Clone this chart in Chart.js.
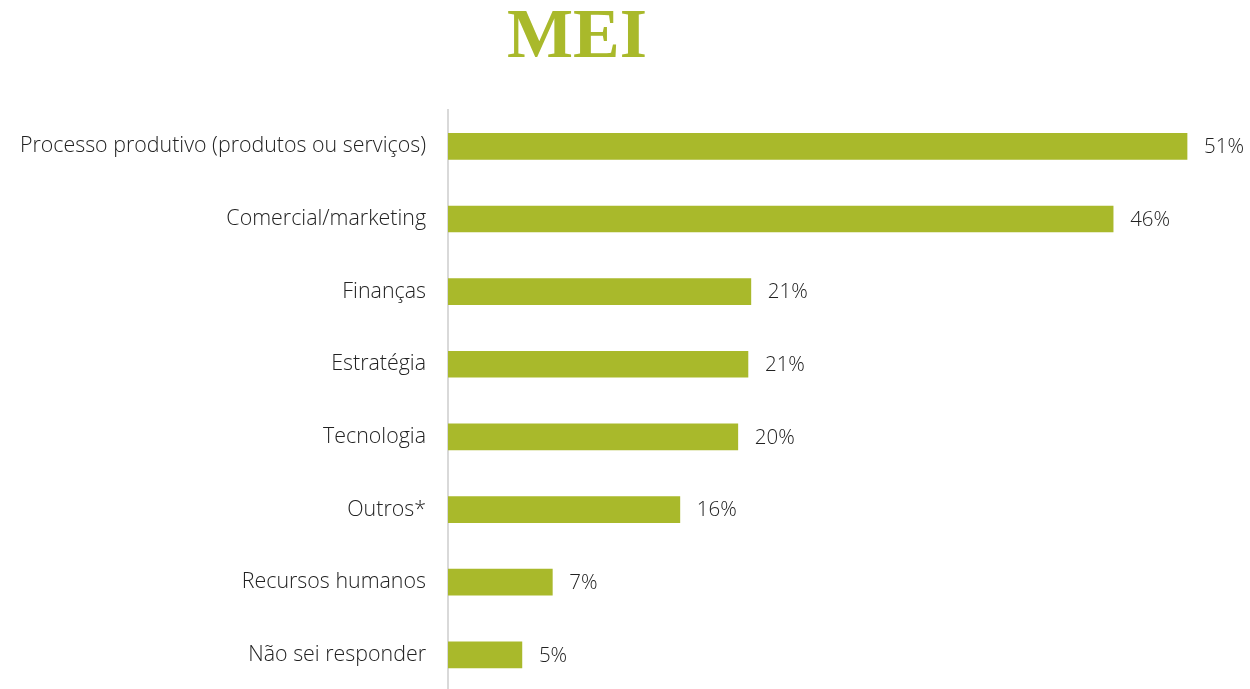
<!DOCTYPE html>
<html>
<head>
<meta charset="utf-8">
<script src="https://cdn.jsdelivr.net/npm/chart.js@4.4.1/dist/chart.umd.min.js"></script>
<style>
  html, body { margin: 0; padding: 0; background: #ffffff; overflow: hidden; }
  #wrap { width: 1250px; height: 689px; overflow: hidden; position: relative; }
  #inner { width: 1250px; height: 726px; position: relative; }
</style>
</head>
<body>
<div id="wrap"><div id="inner"><canvas id="c"></canvas></div></div>
<script>
const chartTitle = "MEI";
const categories = [
  "Processo produtivo (produtos ou serviços)",
  "Comercial/marketing",
  "Finanças",
  "Estratégia",
  "Tecnologia",
  "Outros*",
  "Recursos humanos",
  "Não sei responder"
];
const values = [51.0, 45.9, 20.9, 20.7, 20.0, 16.0, 7.2, 5.1];
const valueLabels = ["51%", "46%", "21%", "21%", "20%", "16%", "7%", "5%"];

const barColor = "#A9B92B";
const textColor = "#222222";
const labelFont = "'Open Sans'";

const titlePlugin = {
  id: "meiTitle",
  afterDraw(chart) {
    const ctx = chart.ctx;
    ctx.save();
    ctx.font = "bold 70px 'Liberation Serif', 'DejaVu Serif', serif";
    ctx.fillStyle = barColor;
    ctx.textAlign = "center";
    ctx.textBaseline = "alphabetic";
    ctx.fillText(chartTitle, 577, 57);
    ctx.restore();
  }
};

const valueLabelPlugin = {
  id: "valueLabels",
  afterDatasetsDraw(chart) {
    const ctx = chart.ctx;
    const meta = chart.getDatasetMeta(0);
    ctx.save();
    ctx.font = "300 20.5px " + labelFont;
    ctx.fillStyle = textColor;
    ctx.textAlign = "left";
    ctx.textBaseline = "middle";
    meta.data.forEach((bar, i) => {
      ctx.fillText(valueLabels[i], bar.x + 17, bar.y + 1);
    });
    ctx.restore();
  }
};

new Chart(document.getElementById("c"), {
  type: "bar",
  data: {
    labels: categories,
    datasets: [{
      data: values,
      backgroundColor: barColor,
      borderWidth: 0,
      barThickness: 26
    }]
  },
  options: {
    indexAxis: "y",
    responsive: true,
    maintainAspectRatio: false,
    animation: false,
    devicePixelRatio: 1,
    layout: { padding: { top: 110, right: 5, left: 0, bottom: 0 } },
    plugins: {
      legend: { display: false },
      tooltip: { enabled: false },
      title: { display: false }
    },
    scales: {
      x: {
        min: 0,
        max: 55,
        display: false,
        grid: { display: false }
      },
      y: {
        afterFit(scale) { scale.width = 448; },
        grid: { display: false, drawTicks: false },
        border: { display: true, color: "#D9D9D9", width: 2 },
        ticks: {
          color: textColor,
          font: { family: labelFont, size: 21.4, weight: "300" },
          padding: 22
        }
      }
    }
  },
  plugins: [titlePlugin, valueLabelPlugin]
});
</script>
</body>
</html>
